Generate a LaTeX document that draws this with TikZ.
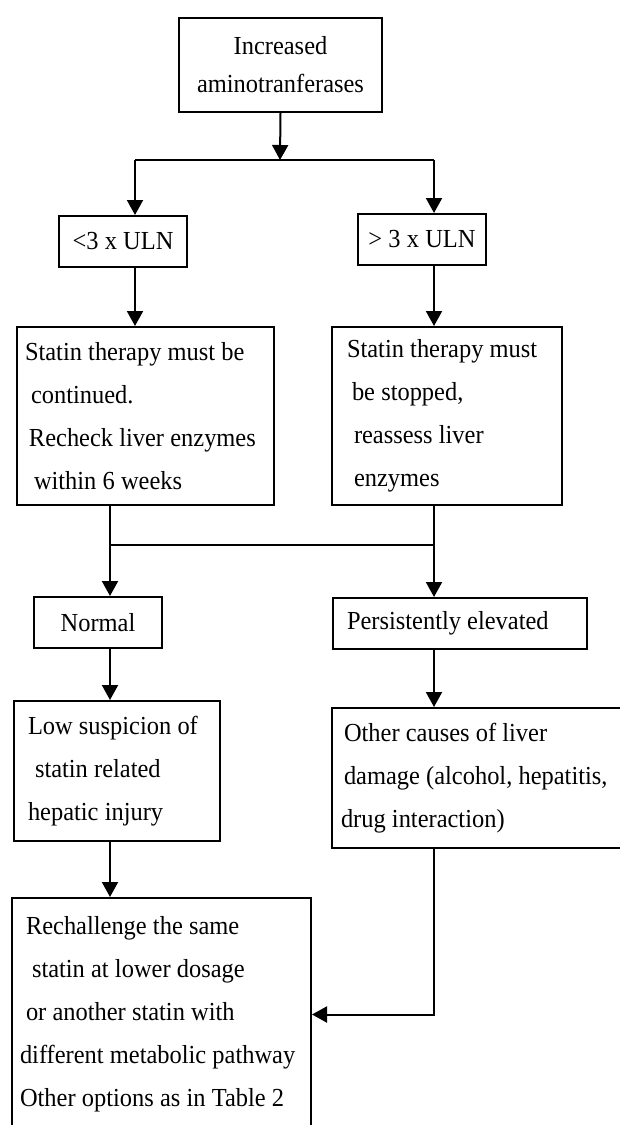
\documentclass[tikz,border=0pt]{standalone}
\usepackage{fontspec}
\setmainfont{Liberation Serif}[FakeStretch=0.94]
\usetikzlibrary{arrows.meta}
\tikzset{
  box/.style={draw, line width=2pt, anchor=north west, inner ysep=0pt,
    align=left, font=\fontsize{26}{43}\selectfont,
    execute at begin node={\spaceskip=6.2pt\relax}},
  cbox/.style={box, align=center}
}
\begin{document}
\begin{tikzpicture}[>={Triangle[width=16pt,length=15pt]}, x=1pt, y=-1pt, line width=2pt]
\useasboundingbox (0,0) rectangle (619,1125);
\node[cbox, font=\fontsize{26}{38}\selectfont, text width=183pt, inner xsep=10pt, minimum height=94pt] (inc) at (178,17) {Increased\\aminotranferases};
\node[cbox, text width=108pt, inner xsep=10pt, minimum height=51pt] (lt) at (58,215) {\mbox{<3 x ULN}};
\node[cbox, text width=112pt, inner xsep=8pt, minimum height=51pt] (gt) at (357,213) {\mbox{> 3 x ULN}};
\node[box, text width=241pt, inner xsep=8pt, minimum height=178pt] (cont) at (16,326)
  {\mbox{Statin therapy must be}\\\hspace*{6pt}continued.\\\hspace*{4pt}\mbox{Recheck liver enzymes}\\\hspace*{9pt}within 6 weeks};
\node[box, text width=200pt, inner xsep=15pt, minimum height=178pt] (stop) at (331,326)
  {\mbox{Statin therapy must}\\\hspace*{5pt}be stopped,\\\hspace*{7pt}reassess liver\\\hspace*{7pt}enzymes};
\node[cbox, text width=108pt, inner xsep=10pt, minimum height=51pt] (norm) at (33,596) {Normal};
\node[box, text width=226pt, inner xsep=14pt, minimum height=51pt] (pers) at (332,597) {\mbox{Persistently elevated}};
\node[box, text width=178pt, inner xsep=14pt, minimum height=140pt] (low) at (13,700)
  {\mbox{Low suspicion of}\\\hspace*{7pt}statin related\\hepatic injury};
\node[box, text width=276pt, inner xsep=9pt, minimum height=140pt] (other) at (331,707)
  {\hspace*{3pt}\mbox{Other causes of liver}\\\hspace*{3pt}\mbox{damage (alcohol, hepatitis,}\\\mbox{drug interaction)}};
\node[box, text width=283pt, inner xsep=8pt, minimum height=233pt] (rech) at (11,897)
  {\hspace*{6pt}\mbox{Rechallenge the same}\\\hspace*{12pt}\mbox{statin at lower dosage}\\\hspace*{6pt}\mbox{or another statin with}\\\mbox{different metabolic pathway}\\\mbox{Other options as in Table 2}};
\coordinate (split) at (280,160);
\coordinate (lcol) at (135,160);
\coordinate (rcol) at (434,160);
\coordinate (mcol) at (110,545);
\draw[->] (inc.south) -- (split);
\draw (lcol) -- (rcol);
\draw[->] (lcol) -- (lcol |- lt.north);
\draw[->] (rcol) -- (rcol |- gt.north);
\draw[->] (lt.south -| lcol) -- (cont.north -| lcol);
\draw[->] (gt.south -| rcol) -- (stop.north -| rcol);
\draw[->] (cont.south -| mcol) -- (norm.north -| mcol);
\draw[->] (stop.south -| rcol) -- (pers.north -| rcol);
\draw (mcol) -- (mcol -| rcol);
\foreach \a/\b in {norm/low, low/rech}
  \draw[->] (\a.south -| mcol) -- (\b.north -| mcol);
\draw[->] (pers.south -| rcol) -- (other.north -| rcol);
\draw[->] (other.south -| rcol) |- (rech.east);
\end{tikzpicture}
\end{document}
